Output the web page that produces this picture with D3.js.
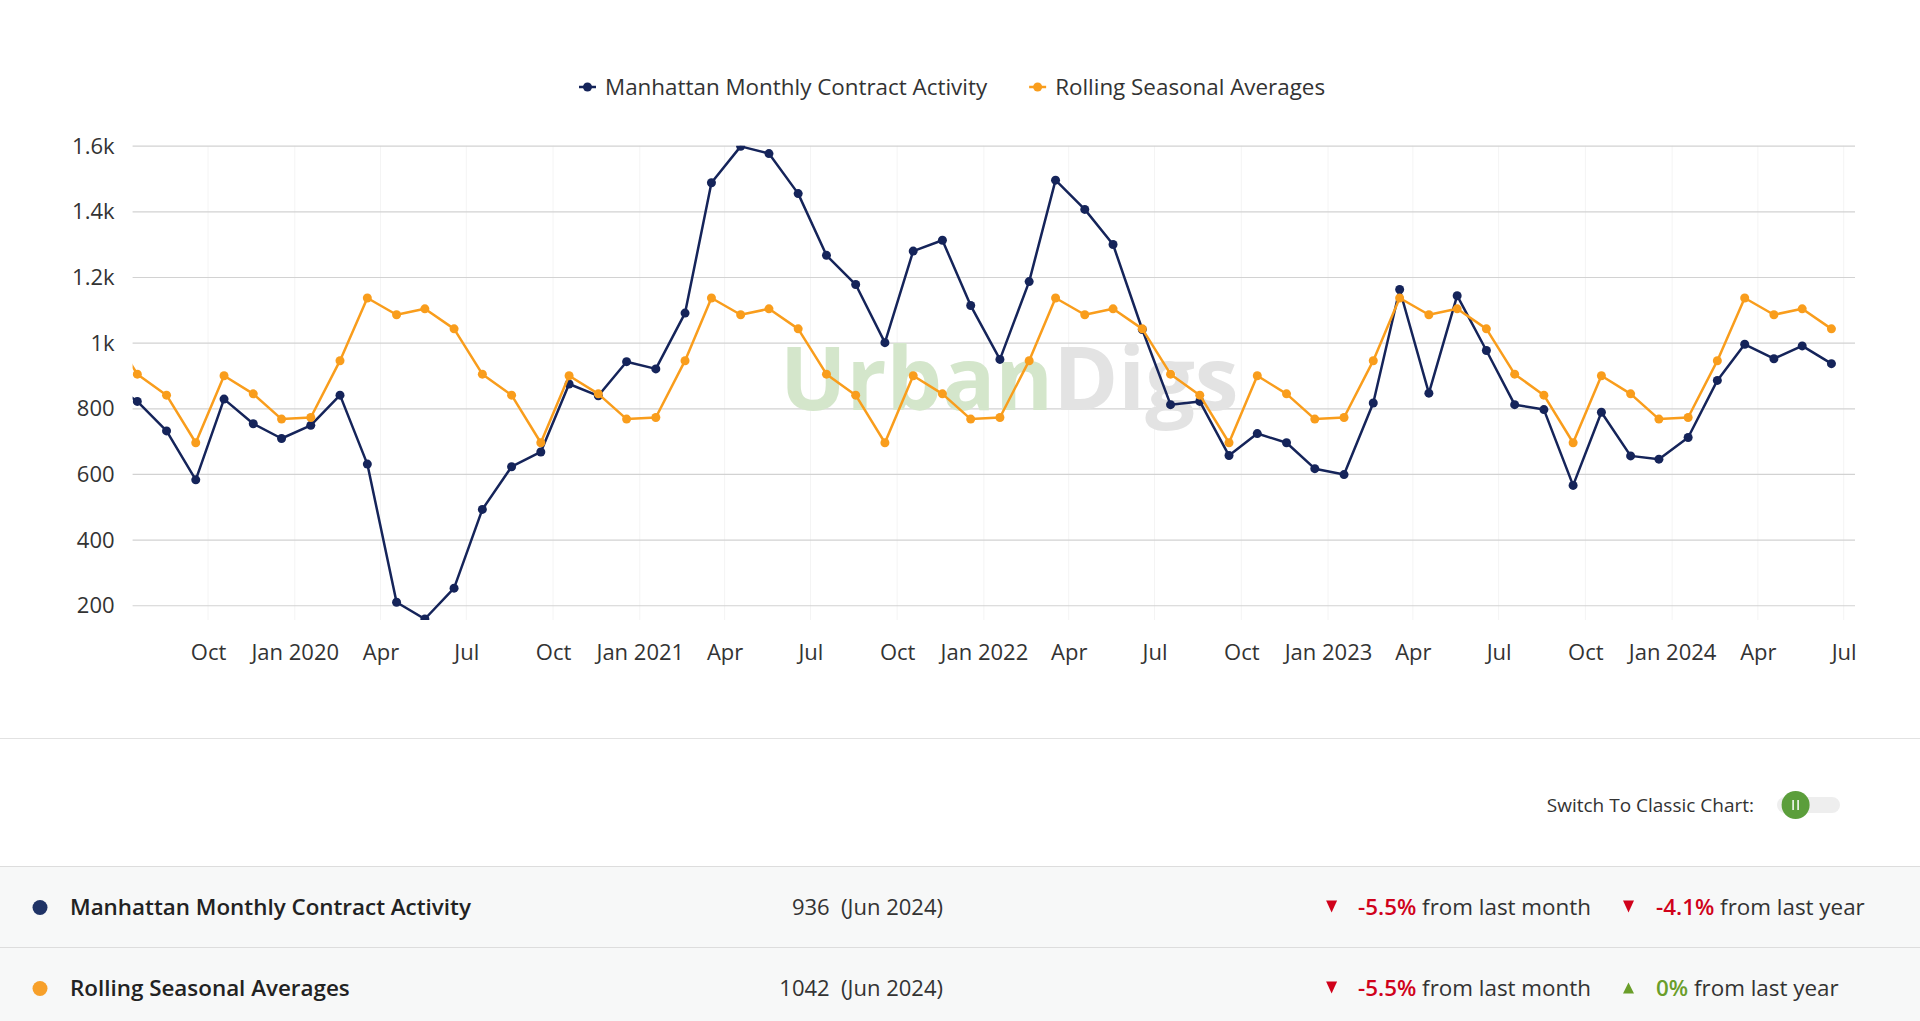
<!DOCTYPE html>
<html>
<head>
<meta charset="utf-8">
<script src="https://cdn.jsdelivr.net/npm/d3@7"></script>
<style>
  body { margin: 0; background: #fff; font-family: "Open Sans", sans-serif; }
  svg text { font-family: "Open Sans", sans-serif; }
</style>
</head>
<body>
<div id="chart"></div>
<script>
// months shown in the chart (points sit mid-month)
let months = [
  "2019-06","2019-07","2019-08","2019-09","2019-10","2019-11","2019-12",
  "2020-01","2020-02","2020-03","2020-04","2020-05","2020-06","2020-07","2020-08","2020-09","2020-10","2020-11","2020-12",
  "2021-01","2021-02","2021-03","2021-04","2021-05","2021-06","2021-07","2021-08","2021-09","2021-10","2021-11","2021-12",
  "2022-01","2022-02","2022-03","2022-04","2022-05","2022-06","2022-07","2022-08","2022-09","2022-10","2022-11","2022-12",
  "2023-01","2023-02","2023-03","2023-04","2023-05","2023-06","2023-07","2023-08","2023-09","2023-10","2023-11","2023-12",
  "2024-01","2024-02","2024-03","2024-04","2024-05","2024-06"
];

let contracts = [
  880, 821, 731, 582, 828, 753, 708,
  748, 840, 630, 209, 158, 252, 492, 622, 667, 874, 838, 942,
  920, 1090, 1487, 1598, 1576, 1454, 1266, 1177, 1000, 1279, 1312, 1113,
  949, 1186, 1495, 1406, 1299, 1040, 811, 821, 656, 723, 695, 616,
  598, 816, 1162, 846, 1143, 976, 811, 796, 565, 788, 655, 645,
  711, 885, 995, 951, 990, 936
];

let seasonal = [
  1042, 904, 840, 695, 899, 844, 767,
  772, 945, 1136, 1085, 1103, 1042, 904, 840, 695, 899, 844, 767,
  772, 945, 1136, 1085, 1103, 1042, 904, 840, 695, 899, 844, 767,
  772, 945, 1136, 1085, 1103, 1042, 904, 840, 695, 899, 844, 767,
  772, 945, 1136, 1085, 1103, 1042, 904, 840, 695, 899, 844, 767,
  772, 945, 1136, 1085, 1103, 1042
];

let xTicks = ["2019-10","2020-01","2020-04","2020-07","2020-10","2021-01","2021-04","2021-07","2021-10",
  "2022-01","2022-04","2022-07","2022-10","2023-01","2023-04","2023-07","2023-10","2024-01","2024-04","2024-07"];
let xTickLabels = ["Oct","Jan 2020","Apr","Jul","Oct","Jan 2021","Apr","Jul","Oct",
  "Jan 2022","Apr","Jul","Oct","Jan 2023","Apr","Jul","Oct","Jan 2024","Apr","Jul"];

let yTicks = [200, 400, 600, 800, 1000, 1200, 1400, 1600];
let yTickLabels = ["200", "400", "600", "800", "1k", "1.2k", "1.4k", "1.6k"];

let seriesNames = ["Manhattan Monthly Contract Activity", "Rolling Seasonal Averages"];
let seriesColors = ["#15245a", "#f99d1c"];
let dotColors = ["#1f3366", "#f7a02a"];
let latestValues = ["936", "1042"];
let latestMonth = "(Jun 2024)";
let monthChange = ["-5.5%", "-5.5%"];
let yearChange = ["-4.1%", "0%"];

const W = 1920, H = 1021;
const plotLeft = 132.6, plotRight = 1855, plotTop = 145.7, plotBottom = 620;

let svg = d3.select("#chart").append("svg")
  .attr("width", W)
  .attr("height", H);

let parseMonth = d3.timeParse("%Y-%m");
let midMonth = function(s) { let d = parseMonth(s); d.setDate(18); return d; };

let x = d3.scaleTime()
  .domain([new Date(2019, 6, 13), new Date(2024, 6, 13)])
  .range([plotLeft, plotRight]);
let y = d3.scaleLinear()
  .domain([155, 1600])
  .range([plotBottom, plotTop]);

// faint vertical grid at ticks
svg.append("g")
  .selectAll("line")
  .data(xTicks)
  .enter()
  .append("line")
  .attr("x1", d => x(parseMonth(d)))
  .attr("x2", d => x(parseMonth(d)))
  .attr("y1", plotTop)
  .attr("y2", plotBottom)
  .attr("stroke", "#f4f4f4");

// horizontal grid + y labels
let yAxis = d3.axisLeft(y)
  .tickValues(yTicks)
  .tickSize(-(plotRight - plotLeft))
  .tickPadding(18)
  .tickFormat((d, i) => yTickLabels[i]);
let gy = svg.append("g")
  .attr("transform", "translate(" + plotLeft + ",0)")
  .call(yAxis);
gy.select(".domain").remove();
gy.selectAll(".tick line").attr("stroke", "#d2d2d2").attr("stroke-width", 1.2);
gy.selectAll(".tick text")
  .attr("fill", "#333")
  .style("font-size", "22px")
  .attr("dy", "0.34em");

// x labels
let xAxis = d3.axisBottom(x)
  .tickValues(xTicks.map(parseMonth))
  .tickSize(0)
  .tickPadding(0)
  .tickFormat((d, i) => xTickLabels[i]);
let gx = svg.append("g")
  .attr("transform", "translate(0," + 659.5 + ")")
  .call(xAxis);
gx.select(".domain").remove();
gx.selectAll(".tick text")
  .attr("fill", "#333")
  .attr("dy", 0)
  .attr("y", 0)
  .style("font-size", "22px");

// watermark
let wm = svg.append("text")
  .attr("x", 780)
  .attr("y", 410)
  .style("font-size", "88px")
  .style("font-weight", "700");
wm.append("tspan").attr("fill", "#d4e6cb").text("Urban");
wm.append("tspan").attr("fill", "#e3e3e3").text("Digs");

// series
svg.append("clipPath").attr("id", "plotClip")
  .append("rect")
  .attr("x", plotLeft).attr("y", plotTop)
  .attr("width", plotRight - plotLeft).attr("height", plotBottom - plotTop);

let plot = svg.append("g").attr("clip-path", "url(#plotClip)");
let allSeries = [contracts, seasonal];
let line = d3.line()
  .x((d, i) => x(midMonth(months[i])))
  .y(d => y(d));

allSeries.forEach(function(values, s) {
  plot.append("path")
    .datum(values)
    .attr("d", line)
    .attr("fill", "none")
    .attr("stroke", seriesColors[s])
    .attr("stroke-width", 2.5)
    .attr("stroke-linejoin", "round");
  plot.selectAll(".pt" + s)
    .data(values)
    .enter()
    .append("circle")
    .attr("class", "pt" + s)
    .attr("cx", (d, i) => x(midMonth(months[i])))
    .attr("cy", d => y(d))
    .attr("r", 4.5)
    .attr("fill", seriesColors[s]);
});

// legend
let legend = svg.append("g").attr("transform", "translate(579,87)");
let lx = 0;
seriesNames.forEach(function(name, s) {
  let item = legend.append("g").attr("transform", "translate(" + lx + ",0)");
  item.append("line")
    .attr("x1", 0).attr("x2", 17)
    .attr("stroke", seriesColors[s]).attr("stroke-width", 2.5);
  item.append("circle").attr("cx", 8.5).attr("r", 4.5).attr("fill", seriesColors[s]);
  let t = item.append("text")
    .attr("x", 26)
    .attr("dy", "0.35em")
    .attr("fill", "#333")
    .style("font-size", "22.4px")
    .text(name);
  lx += 26 + t.node().getComputedTextLength() + 42;
});

// lower panel
svg.append("line")
  .attr("x1", 0).attr("x2", W)
  .attr("y1", 738.5).attr("y2", 738.5)
  .attr("stroke", "#e2e2e2");

svg.append("text")
  .attr("x", 1754)
  .attr("y", 805)
  .attr("dy", "0.35em")
  .attr("text-anchor", "end")
  .attr("fill", "#333")
  .style("font-size", "19px")
  .text("Switch To Classic Chart:");
svg.append("rect")
  .attr("x", 1777).attr("y", 797)
  .attr("width", 63).attr("height", 16)
  .attr("rx", 8)
  .attr("fill", "#eeeeee");
svg.append("circle")
  .attr("cx", 1795.6).attr("cy", 805).attr("r", 14)
  .attr("fill", "#5b9e3b");
[-2.5, 2.5].forEach(function(dx) {
  svg.append("line")
    .attr("x1", 1795.6 + dx).attr("x2", 1795.6 + dx)
    .attr("y1", 800).attr("y2", 810)
    .attr("stroke", "#fff").attr("stroke-width", 1.5);
});

let rowTop = [866.5, 947.5];
let rowH = [81, 80];
seriesNames.forEach(function(name, s) {
  let g = svg.append("g");
  let cy = rowTop[s] + 41;
  g.append("rect")
    .attr("x", 0).attr("y", rowTop[s])
    .attr("width", W).attr("height", rowH[s])
    .attr("fill", "#f7f8f8");
  g.append("line")
    .attr("x1", 0).attr("x2", W)
    .attr("y1", rowTop[s]).attr("y2", rowTop[s])
    .attr("stroke", "#dddddd");
  g.append("circle")
    .attr("cx", 40).attr("cy", cy).attr("r", 7.5)
    .attr("fill", dotColors[s]);
  g.append("text")
    .attr("x", 70).attr("y", cy).attr("dy", "0.35em")
    .attr("fill", "#222")
    .style("font-size", "22.4px")
    .style("font-weight", "600")
    .text(name);
  g.append("text")
    .attr("x", 943).attr("y", cy).attr("dy", "0.35em")
    .attr("text-anchor", "end")
    .attr("fill", "#333")
    .style("font-size", "22px")
    .style("white-space", "pre")
    .text(latestValues[s] + "  " + latestMonth);

  // change badges: month and year
  let changes = [[monthChange[s], " from last month", 1331.6, 1358],
                 [yearChange[s], " from last year", 1628.5, 1656]];
  changes.forEach(function(c) {
    let up = c[0][0] !== "-";
    let col = up ? "#6a9e2a" : "#d0021b";
    let tri = up
      ? [[c[2] - 5.5, cy + 5], [c[2] + 5.5, cy + 5], [c[2], cy - 6]]
      : [[c[2] - 5.5, cy - 7], [c[2] + 5.5, cy - 7], [c[2], cy + 5]];
    g.append("path")
      .attr("d", "M" + tri.join("L") + "Z")
      .attr("fill", col);
    let t = g.append("text")
      .attr("x", c[3]).attr("y", cy).attr("dy", "0.35em")
      .style("font-size", "22.4px")
      .style("white-space", "pre");
    t.append("tspan").attr("fill", col).style("font-weight", "600").text(c[0]);
    t.append("tspan").attr("fill", "#333").text(c[1]);
  });
});
</script>
</body>
</html>
